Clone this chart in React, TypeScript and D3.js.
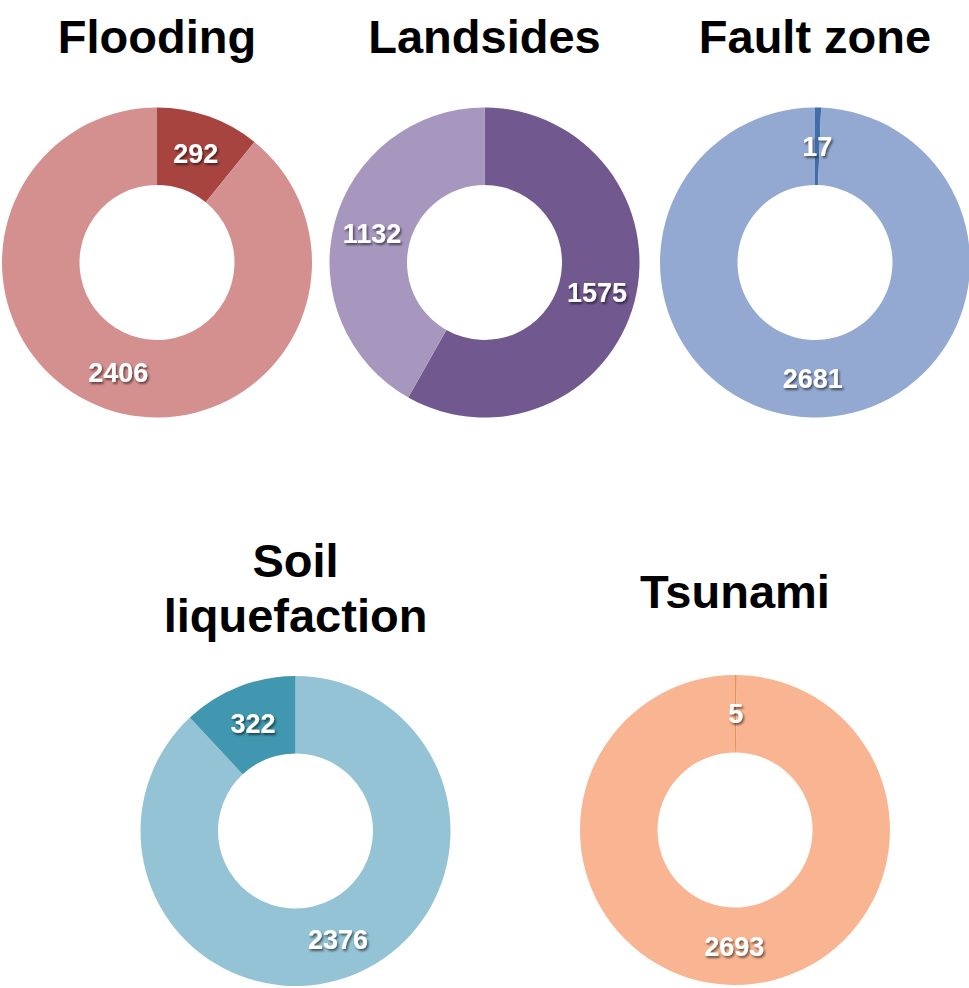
import React from 'react';
import * as d3 from 'd3';

// hazard categories, one donut each
const titles: string[][] = [['Flooding'], ['Landsides'], ['Fault zone'], ['Soil', 'liquefaction'], ['Tsunami']];
const floodingValues = [292, 2406];
const landslideValues = [1575, 1132];
const faultValues = [17, 2681];
const soilValues = [2376, 322];
const tsunamiValues = [5, 2693];
const seriesValues = [floodingValues, landslideValues, faultValues, soilValues, tsunamiValues];

const floodingColors = ['#a84440', '#d4908f'];
const landslideColors = ['#71588f', '#a797be'];
const faultColors = ['#3f6ea8', '#93a9d1'];
const soilColors = ['#93c3d5', '#4197af'];
const tsunamiColors = ['#e0965a', '#f9b591'];
const seriesColors = [floodingColors, landslideColors, faultColors, soilColors, tsunamiColors];

const width = 969;
const height = 988;

// layout of the donuts on the page
const centers: [number, number][] = [
    [157, 262.5],
    [484.5, 262.5],
    [815, 262.5],
    [295.5, 831],
    [735, 830],
];
const titleBaselines = [53, 53, 53, 577, 608];
const outerR = 155;
const innerR = 77.5;

const Donut: React.FC<{ idx: number }> = ({ idx }) => {
    const values = seriesValues[idx];
    const colors = seriesColors[idx];
    const [cx, cy] = centers[idx];

    const pie = d3.pie<number>().sort(null).value(d => d);
    const arc = d3.arc<d3.PieArcDatum<number>>().innerRadius(innerR).outerRadius(outerR);
    const arcs = pie(values);

    const lines = titles[idx];
    const base = titleBaselines[idx];

    return (
        <g>
            {lines.map((t, i) => (
                <text
                    key={t}
                    x={cx}
                    y={base + i * 55}
                    textAnchor="middle"
                    fontFamily="'Liberation Sans', Arial, sans-serif"
                    fontWeight="bold"
                    fontSize={47}
                    fill="#000"
                >
                    {t}
                </text>
            ))}
            <g transform={`translate(${cx},${cy})`}>
                {arcs.map((a, i) => (
                    <path key={i} d={arc(a) || ''} fill={colors[i]} />
                ))}
                {arcs.map((a, i) => {
                    const [lx, ly] = arc.centroid(a);
                    return (
                        <text
                            key={'l' + i}
                            x={lx}
                            y={ly}
                            dy="0.36em"
                            textAnchor="middle"
                            fontFamily="'Liberation Sans', Arial, sans-serif"
                            fontWeight="bold"
                            fontSize={27}
                            fill="#fff"
                            filter="url(#lblShadow)"
                        >
                            {values[i]}
                        </text>
                    );
                })}
            </g>
        </g>
    );
};

const App: React.FC = () => {
    return (
        <svg
            width={width}
            height={height}
            style={{ position: 'absolute', left: 0, top: 0, backgroundColor: 'white' }}
        >
            <defs>
                <filter id="lblShadow" x="-20%" y="-20%" width="140%" height="160%">
                    <feDropShadow dx="1.5" dy="2" stdDeviation="1" floodColor="#000" floodOpacity="0.55" />
                </filter>
            </defs>
            {seriesValues.map((_, i) => (
                <Donut key={i} idx={i} />
            ))}
        </svg>
    );
};

export default App;
